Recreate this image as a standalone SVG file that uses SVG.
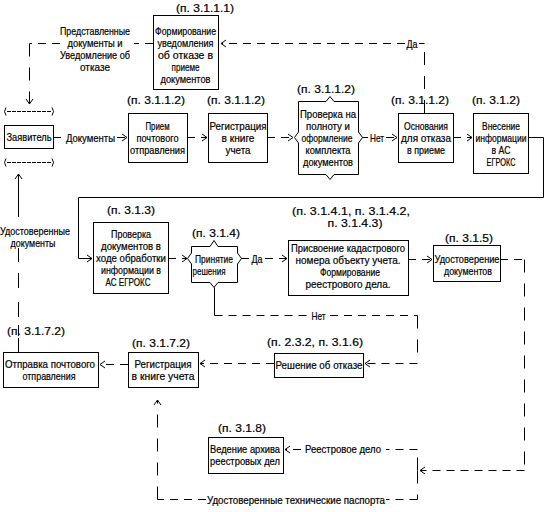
<svg xmlns="http://www.w3.org/2000/svg" width="547" height="512" viewBox="0 0 547 512">
<defs>
<marker id="arr" viewBox="-7 -5 9 10" refX="0" refY="0" markerWidth="9" markerHeight="10" markerUnits="userSpaceOnUse" orient="auto">
<path d="M-5,-3.5 L0,0 L-5,3.5" fill="none" stroke="#000" stroke-width="1"/>
</marker>
<style>
text{font-family:"Liberation Sans","DejaVu Sans",Arial,sans-serif;font-size:10.5px;fill:#000;stroke:#000;stroke-width:0.2px;text-anchor:middle}
.box{fill:#fff;stroke:#000;stroke-width:1}
.ln{fill:none;stroke:#000;stroke-width:1}
.dh{stroke-dasharray:8 6}
.dv{stroke-dasharray:13 11}
.dt{stroke-dasharray:4 1}
.arr{marker-end:url(#arr)}
</style>
</defs>
<rect width="547" height="512" fill="#fff"/>

<g id="connectors">
  <!-- Формирование -> Заявитель -->
  <path class="ln dh" d="M153,43.5 H134 M60,43.5 H29.5"/>
  <path class="ln dv arr" d="M29.5,43.5 V104"/>
  <text x="95" y="34.5" textLength="70" lengthAdjust="spacingAndGlyphs">Представленные</text>
  <text x="95" y="46.5" textLength="55" lengthAdjust="spacingAndGlyphs">документы и</text>
  <text x="95" y="58.5" textLength="70" lengthAdjust="spacingAndGlyphs">Уведомление об</text>
  <text x="95" y="70.5" textLength="30" lengthAdjust="spacingAndGlyphs">отказе</text>
  <!-- Основания -> Формирование (Да) -->
  <path class="ln dv" d="M424.5,113 V43.5"/>
  <path class="ln dh arr" d="M424.5,43.5 H419 M405,43.5 H221"/>
  <text x="412" y="47.5" textLength="11" lengthAdjust="spacingAndGlyphs">Да</text>
  <!-- Заявитель -> Прием -->
  <path class="ln dh arr" d="M53,137.5 H64 M117,137.5 H127"/>
  <text x="90.5" y="141.5" textLength="49" lengthAdjust="spacingAndGlyphs">Документы</text>
  <path class="ln dh arr" d="M187,137.5 H207"/>
  <path class="ln dh arr" d="M267,137.5 H293"/>
  <path class="ln dh arr" d="M362,137.5 H368 M386,137.5 H397"/>
  <text x="377" y="141.5" textLength="14" lengthAdjust="spacingAndGlyphs">Нет</text>
  <path class="ln dh arr" d="M453,137.5 H472"/>
  <!-- Внесение -> Проверка документов -->
  <path class="ln arr" d="M528,137.5 H543.5 V197.5 H78.5 V258.5 H92"/>
  <path class="ln dh arr" d="M168,258.5 H187"/>
  <path class="ln dh arr" d="M241,258.5 H249 M265,258.5 H287"/>
  <text x="257" y="262.5" textLength="11" lengthAdjust="spacingAndGlyphs">Да</text>
  <path class="ln dh arr" d="M408,259.5 H432"/>
  <!-- Удостоверение -> junction -->
  <path class="ln dh" d="M500,259.5 H524.5"/>
  <path class="ln dv" d="M524.5,259.5 V470.5"/>
  <path class="ln dh arr" d="M524.5,470.5 H420"/>
  <!-- junction -> Ведение архива -->
  <path class="ln dv" d="M417.5,470.5 V449.5"/>
  <path class="ln dh arr" d="M417.5,449.5 H386 M301,449.5 H285"/>
  <text x="343" y="453" textLength="76" lengthAdjust="spacingAndGlyphs">Реестровое дело</text>
  <!-- junction -> Регистрация (нижняя) -->
  <path class="ln dv" d="M417.5,470.5 V499.5"/>
  <path class="ln dh" d="M417.5,499.5 H386 M206,499.5 H157.5"/>
  <path class="ln dv arr" d="M157.5,499.5 V400"/>
  <text x="296" y="503.5" textLength="178" lengthAdjust="spacingAndGlyphs">Удостоверенные технические паспорта</text>
  <!-- Принятие -> Нет -> Решение об отказе -->
  <path class="ln" d="M214.5,287.5 V315.5"/>
  <path class="ln dh" d="M214.5,315.5 H307 M330,315.5 H417.5"/>
  <path class="ln dv" d="M417.5,315.5 V363.5"/>
  <path class="ln dh arr" d="M417.5,363.5 H365"/>
  <text x="318.5" y="319.5" textLength="14" lengthAdjust="spacingAndGlyphs">Нет</text>
  <path class="ln dh arr" d="M274,363.5 H200"/>
  <path class="ln dh arr" d="M128,364.5 H100"/>
  <!-- Отправка -> Заявитель -->
  <path class="ln arr" d="M18.5,352 V338 M18.5,336 V325 M18.5,317 V302 M18.5,288 V273 M18.5,262 V248 M18.5,217 V174"/>
  <text x="35" y="235" textLength="70" lengthAdjust="spacingAndGlyphs">Удостоверенные</text>
  <text x="33" y="247" textLength="45" lengthAdjust="spacingAndGlyphs">документы</text>
</g>

<g id="n-zayavitel">
  <path class="ln" d="M6,107.5 Q3,111.5 6,115.5 M52,107.5 Q55,111.5 52,115.5 M6,158.5 Q3,162.5 6,166.5 M52,158.5 Q55,162.5 52,166.5"/>
  <path class="ln dt" d="M7,111.5 H51 M7,162.5 H51"/>
  <rect class="box" x="4.5" y="125.5" width="49" height="23"/>
  <text x="29" y="141" textLength="45" lengthAdjust="spacingAndGlyphs">Заявитель</text>
</g>

<g id="n-formirovanie">
  <text x="205" y="12" textLength="58" lengthAdjust="spacingAndGlyphs">(п. 3.1.1.1)</text>
  <rect class="box" x="153.5" y="15.5" width="65" height="74"/>
  <text x="185.5" y="34.5" textLength="61" lengthAdjust="spacingAndGlyphs">Формирование</text>
  <text x="185.5" y="46.5" textLength="56" lengthAdjust="spacingAndGlyphs">уведомления</text>
  <text x="185.5" y="58.5" textLength="55" lengthAdjust="spacingAndGlyphs">об отказе в</text>
  <text x="185.5" y="70.5" textLength="28" lengthAdjust="spacingAndGlyphs">приеме</text>
  <text x="185.5" y="82.5" textLength="50" lengthAdjust="spacingAndGlyphs">документов</text>
</g>

<g id="n-priem">
  <text x="156" y="104" textLength="58" lengthAdjust="spacingAndGlyphs">(п. 3.1.1.2)</text>
  <rect class="box" x="128.5" y="113.5" width="59" height="49"/>
  <text x="157.5" y="129.5" textLength="24" lengthAdjust="spacingAndGlyphs">Прием</text>
  <text x="157.5" y="141.5" textLength="42" lengthAdjust="spacingAndGlyphs">почтового</text>
  <text x="157.5" y="153.5" textLength="55" lengthAdjust="spacingAndGlyphs">отправления</text>
</g>

<g id="n-registr1">
  <text x="236" y="104" textLength="58" lengthAdjust="spacingAndGlyphs">(п. 3.1.1.2)</text>
  <rect class="box" x="208.5" y="113.5" width="59" height="49"/>
  <text x="238" y="129.5" textLength="57" lengthAdjust="spacingAndGlyphs">Регистрация</text>
  <text x="238" y="141.5" textLength="33" lengthAdjust="spacingAndGlyphs">в книге</text>
  <text x="238" y="153.5" textLength="25" lengthAdjust="spacingAndGlyphs">учета</text>
</g>

<g id="n-proverka">
  <text x="326" y="93" textLength="58" lengthAdjust="spacingAndGlyphs">(п. 3.1.1.2)</text>
  <path class="box" d="M298.5,101.5 H326 L330,96.5 L334,101.5 H358.5 V132 L362.5,137.5 L358.5,143 V174.5 H334 L330,179.5 L326,174.5 H298.5 V143 L294.5,137.5 L298.5,132 Z"/>
  <text x="328" y="118" textLength="56" lengthAdjust="spacingAndGlyphs">Проверка на</text>
  <text x="328" y="130" textLength="44" lengthAdjust="spacingAndGlyphs">полноту и</text>
  <text x="327" y="142" textLength="51" lengthAdjust="spacingAndGlyphs">оформление</text>
  <text x="328" y="154" textLength="45" lengthAdjust="spacingAndGlyphs">комплекта</text>
  <text x="328" y="166" textLength="50" lengthAdjust="spacingAndGlyphs">документов</text>
</g>

<g id="n-osnovaniya">
  <text x="420" y="104" textLength="58" lengthAdjust="spacingAndGlyphs">(п. 3.1.1.2)</text>
  <rect class="box" x="398.5" y="113.5" width="55" height="49"/>
  <text x="426" y="129.5" textLength="44" lengthAdjust="spacingAndGlyphs">Основания</text>
  <text x="426" y="141.5" textLength="50" lengthAdjust="spacingAndGlyphs">для отказа</text>
  <text x="426" y="153.5" textLength="38" lengthAdjust="spacingAndGlyphs">в приеме</text>
</g>

<g id="n-vnesenie">
  <text x="496" y="104" textLength="48" lengthAdjust="spacingAndGlyphs">(п. 3.1.2)</text>
  <rect class="box" x="473.5" y="113.5" width="55" height="60"/>
  <text x="501" y="129.5" textLength="38" lengthAdjust="spacingAndGlyphs">Внесение</text>
  <text x="501" y="141.5" textLength="51" lengthAdjust="spacingAndGlyphs">информации</text>
  <text x="501" y="153.5" textLength="19" lengthAdjust="spacingAndGlyphs">в АС</text>
  <text x="501" y="165.5" textLength="29" lengthAdjust="spacingAndGlyphs">ЕГРОКС</text>
</g>

<g id="n-proverka-doc">
  <text x="131" y="214" textLength="48" lengthAdjust="spacingAndGlyphs">(п. 3.1.3)</text>
  <rect class="box" x="93.5" y="222.5" width="75" height="71"/>
  <text x="131" y="238" textLength="40" lengthAdjust="spacingAndGlyphs">Проверка</text>
  <text x="131" y="250" textLength="60" lengthAdjust="spacingAndGlyphs">документов в</text>
  <text x="131" y="262" textLength="70" lengthAdjust="spacingAndGlyphs">ходе обработки</text>
  <text x="131" y="274" textLength="60" lengthAdjust="spacingAndGlyphs">информации в</text>
  <text x="128" y="286" textLength="45" lengthAdjust="spacingAndGlyphs">АС ЕГРОКС</text>
</g>

<g id="n-prinyatie">
  <text x="216" y="236.5" textLength="48" lengthAdjust="spacingAndGlyphs">(п. 3.1.4)</text>
  <path class="box" d="M191.5,246.5 H210 L214,240.5 L218,246.5 H237.5 V253 L241.5,258.5 L237.5,264 V282.5 H218 L214,287.5 L210,282.5 H191.5 V264 L187.5,258.5 L191.5,253 Z"/>
  <text x="214" y="262.5" textLength="38" lengthAdjust="spacingAndGlyphs">Принятие</text>
  <text x="209" y="274.5" textLength="33" lengthAdjust="spacingAndGlyphs">решения</text>
</g>

<g id="n-prisvoenie">
  <text x="351" y="215" textLength="118" lengthAdjust="spacingAndGlyphs">(п. 3.1.4.1, п. 3.1.4.2,</text>
  <text x="355" y="227" textLength="55" lengthAdjust="spacingAndGlyphs">п. 3.1.4.3)</text>
  <rect class="box" x="288.5" y="240.5" width="120" height="55"/>
  <text x="348" y="252" textLength="114" lengthAdjust="spacingAndGlyphs">Присвоение кадастрового</text>
  <text x="348" y="264" textLength="105" lengthAdjust="spacingAndGlyphs">номера объекту учета.</text>
  <text x="350" y="276" textLength="60" lengthAdjust="spacingAndGlyphs">Формирование</text>
  <text x="348" y="288" textLength="85" lengthAdjust="spacingAndGlyphs">реестрового дела.</text>
</g>

<g id="n-udostoverenie">
  <text x="469" y="242" textLength="48" lengthAdjust="spacingAndGlyphs">(п. 3.1.5)</text>
  <rect class="box" x="433.5" y="245.5" width="67" height="36"/>
  <text x="467" y="263" textLength="65" lengthAdjust="spacingAndGlyphs">Удостоверение</text>
  <text x="468" y="275" textLength="48" lengthAdjust="spacingAndGlyphs">документов</text>
</g>

<g id="n-reshenie">
  <text x="315" y="346" textLength="96" lengthAdjust="spacingAndGlyphs">(п. 2.3.2, п. 3.1.6)</text>
  <rect class="box" x="274.5" y="353.5" width="89" height="24"/>
  <text x="319" y="369" textLength="87" lengthAdjust="spacingAndGlyphs">Решение об отказе</text>
</g>

<g id="n-registr2">
  <text x="161" y="347" textLength="58" lengthAdjust="spacingAndGlyphs">(п. 3.1.7.2)</text>
  <rect class="box" x="128.5" y="352.5" width="70" height="35"/>
  <text x="163" y="368" textLength="57" lengthAdjust="spacingAndGlyphs">Регистрация</text>
  <text x="163" y="380" textLength="63" lengthAdjust="spacingAndGlyphs">в книге учета</text>
</g>

<g id="n-otpravka">
  <text x="36" y="335" textLength="58" lengthAdjust="spacingAndGlyphs">(п. 3.1.7.2)</text>
  <rect class="box" x="3.5" y="352.5" width="95" height="35"/>
  <text x="50" y="368" textLength="90" lengthAdjust="spacingAndGlyphs">Отправка почтового</text>
  <text x="49" y="380" textLength="53" lengthAdjust="spacingAndGlyphs">отправления</text>
</g>

<g id="n-vedenie">
  <text x="242" y="432" textLength="48" lengthAdjust="spacingAndGlyphs">(п. 3.1.8)</text>
  <rect class="box" x="208.5" y="437.5" width="75" height="36"/>
  <text x="245" y="453" textLength="70" lengthAdjust="spacingAndGlyphs">Ведение архива</text>
  <text x="245" y="465" textLength="70" lengthAdjust="spacingAndGlyphs">реестровых дел</text>
</g>
</svg>
